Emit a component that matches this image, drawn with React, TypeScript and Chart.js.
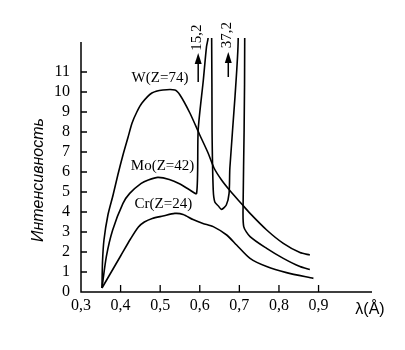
import React, { useEffect, useRef } from 'react';
import { Chart, registerables } from 'chart.js';

Chart.register(...registerables);

// ---- data (wavelength in Å, intensity) ----
const wX = [0.353, 0.3543, 0.358, 0.368, 0.381, 0.393, 0.406, 0.419, 0.429, 0.441, 0.454, 0.479, 0.507, 0.537, 0.55, 0.575, 0.6, 0.621, 0.636, 0.655, 0.677, 0.706, 0.727, 0.769, 0.811, 0.853, 0.878];
const wY = [0.2, 1.5, 2.6, 3.85, 4.85, 5.85, 6.85, 7.75, 8.45, 9.0, 9.45, 9.95, 10.1, 10.1, 9.85, 8.95, 7.85, 6.95, 6.2, 5.6, 5.05, 4.4, 3.93, 3.1, 2.43, 1.97, 1.85];

const moX = [0.353, 0.364, 0.38, 0.406, 0.423, 0.452, 0.47, 0.494, 0.523, 0.55, 0.575, 0.592, 0.596, 0.609, 0.617, 0.621, 0.625, 0.63, 0.631, 0.634, 0.638, 0.647, 0.655, 0.667, 0.674, 0.676, 0.689, 0.697, 0.704, 0.7135, 0.712, 0.7095, 0.711, 0.727, 0.769, 0.811, 0.853, 0.878];
const moY = [0.2, 1.77, 3.1, 4.43, 4.93, 5.43, 5.6, 5.73, 5.63, 5.4, 5.1, 4.93, 8.1, 10.6, 12.27, 12.7, 15.2, 12.7, 8.1, 5.1, 4.5, 4.3, 4.13, 4.35, 4.93, 6.2, 9.77, 12.6, 37.2, 12.7, 8.1, 4.43, 3.27, 2.77, 2.18, 1.68, 1.27, 1.13];

const crX = [0.353, 0.375, 0.4, 0.425, 0.445, 0.46, 0.48, 0.507, 0.537, 0.558, 0.583, 0.608, 0.634, 0.668, 0.693, 0.727, 0.769, 0.819, 0.887];
const crY = [0.2, 0.95, 1.8, 2.65, 3.25, 3.5, 3.68, 3.8, 3.93, 3.88, 3.62, 3.43, 3.27, 2.85, 2.35, 1.68, 1.27, 0.97, 0.68];

const xTickValues = [0.4, 0.5, 0.6, 0.7, 0.8, 0.9];
const yTickValues = [1, 2, 3, 4, 5, 6, 7, 8, 9, 10, 11];
const curveLabels = ['W(Z=74)', 'Mo(Z=42)', 'Cr(Z=24)'];
const peakLabels = ['15,2', '37,2'];
const yTitle = 'Интенсивность';
const xTitle = 'λ(Å)';

// annotation anchors (data coordinates)
const curveLabelPos = [[0.4995, 10.72], [0.506, 6.3], [0.508, 4.4]];
const peakLabelPos = [[0.593, 12.72], [0.669, 12.85]];
const arrowPos = [[0.596, 10.5, 11.95], [0.672, 10.75, 12.0]];

const X_MIN = 0.3;
const X_MAX = 1.035;
const Y_MAX = 12.7;
const Y_AXIS_TOP = 12.5;

const toPts = (xs: number[], ys: number[]) => xs.map((x, i) => ({ x, y: ys[i] }));

const SERIF = '"Liberation Serif", "Times New Roman", serif';
const SANS = '"Liberation Sans", Arial, sans-serif';

const annotPlugin = {
  id: 'annot',
  afterDraw(chart: any) {
    const { ctx } = chart;
    const xs = chart.scales.x;
    const ys = chart.scales.y;
    const px = (v: number) => xs.getPixelForValue(v);
    const py = (v: number) => ys.getPixelForValue(v);
    ctx.save();
    ctx.strokeStyle = '#000';
    ctx.fillStyle = '#000';
    ctx.lineWidth = 1.5;
    const x0 = px(X_MIN);
    const y0 = py(0);
    ctx.beginPath();
    ctx.moveTo(x0, py(Y_AXIS_TOP));
    ctx.lineTo(x0, y0);
    ctx.lineTo(px(X_MAX), y0);
    ctx.stroke();
    ctx.lineWidth = 1.3;
    ctx.beginPath();
    yTickValues.forEach((v) => {
      ctx.moveTo(x0, py(v));
      ctx.lineTo(x0 + 6, py(v));
    });
    xTickValues.forEach((v) => {
      ctx.moveTo(px(v), y0);
      ctx.lineTo(px(v), y0 - 7);
    });
    ctx.stroke();

    // curve labels
    ctx.font = '15px ' + SERIF;
    ctx.textAlign = 'center';
    ctx.textBaseline = 'middle';
    curveLabels.forEach((t, i) => {
      ctx.fillText(t, px(curveLabelPos[i][0]), py(curveLabelPos[i][1]));
    });

    // peak labels (rotated)
    peakLabels.forEach((t, i) => {
      ctx.save();
      ctx.translate(px(peakLabelPos[i][0]), py(peakLabelPos[i][1]));
      ctx.rotate(-Math.PI / 2);
      ctx.fillText(t, 0, 0);
      ctx.restore();
    });

    // arrows
    ctx.lineWidth = 1.5;
    arrowPos.forEach(([ax, yb, yt]) => {
      const ax0 = px(ax);
      const yb0 = py(yb);
      const yt0 = py(yt);
      ctx.beginPath();
      ctx.moveTo(ax0, yb0);
      ctx.lineTo(ax0, yt0 + 8);
      ctx.stroke();
      ctx.beginPath();
      ctx.moveTo(ax0, yt0);
      ctx.lineTo(ax0 - 3.5, yt0 + 11);
      ctx.lineTo(ax0 + 3.5, yt0 + 11);
      ctx.closePath();
      ctx.fill();
    });

    // axis titles
    ctx.font = '16px ' + SANS;
    ctx.textAlign = 'center';
    ctx.fillText(xTitle, px(1.03), y0 + 18);
    ctx.save();
    ctx.translate(38.5, (py(0) + py(Y_AXIS_TOP)) / 2 + 13);
    ctx.rotate(-Math.PI / 2);
    ctx.font = 'italic 16px ' + SANS;
    ctx.fillText(yTitle, 0, 0);
    ctx.restore();
    ctx.restore();
  },
};

export default function App() {
  const ref = useRef<HTMLCanvasElement>(null);
  useEffect(() => {
    if (!ref.current) return;
    const ds = (xs: number[], ys: number[]) => ({
      data: toPts(xs, ys),
      showLine: true,
      borderColor: '#000',
      borderWidth: 1.6,
      pointRadius: 0,
      tension: 0.25,
      fill: false,
    });
    const chart = new Chart(ref.current, {
      type: 'scatter',
      data: {
        datasets: [ds(wX, wY), ds(moX, moY), ds(crX, crY)],
      },
      plugins: [annotPlugin],
      options: {
        animation: false,
        responsive: false,
        devicePixelRatio: 1,
        layout: { padding: { top: 38, right: 33, left: 0, bottom: 0 } },
        plugins: { legend: { display: false }, tooltip: { enabled: false } },
        scales: {
          x: {
            type: 'linear',
            min: X_MIN,
            max: X_MAX,
            border: { display: false },
            grid: { display: false, drawTicks: false },
            ticks: {
              stepSize: 0.1,
              autoSkip: false,
              maxRotation: 0,
              padding: 4,
              color: '#000',
              font: { family: SERIF, size: 16 },
              callback: (v: any) => {
                const n = Number(v);
                if (n > 0.95) return '';
                return n.toFixed(1).replace('.', ',');
              },
            },
            afterFit: (s: any) => {
              s.height = 58;
            },
          },
          y: {
            type: 'linear',
            min: 0,
            max: Y_MAX,
            border: { display: false },
            grid: { display: false, drawTicks: false },
            ticks: {
              stepSize: 1,
              autoSkip: false,
              padding: 11,
              color: '#000',
              font: { family: SERIF, size: 16 },
              callback: (v: any) => {
                const n = Number(v);
                if (n > 11.5) return '';
                return String(Math.round(n));
              },
            },
            afterFit: (s: any) => {
              s.width = 81;
            },
          },
        },
      },
    });
    return () => chart.destroy();
  }, []);
  return (
    <div style={{ position: 'absolute', left: 0, top: 0, width: 405, height: 350, background: '#fff' }}>
      <canvas ref={ref} width={405} height={350} />
    </div>
  );
}
